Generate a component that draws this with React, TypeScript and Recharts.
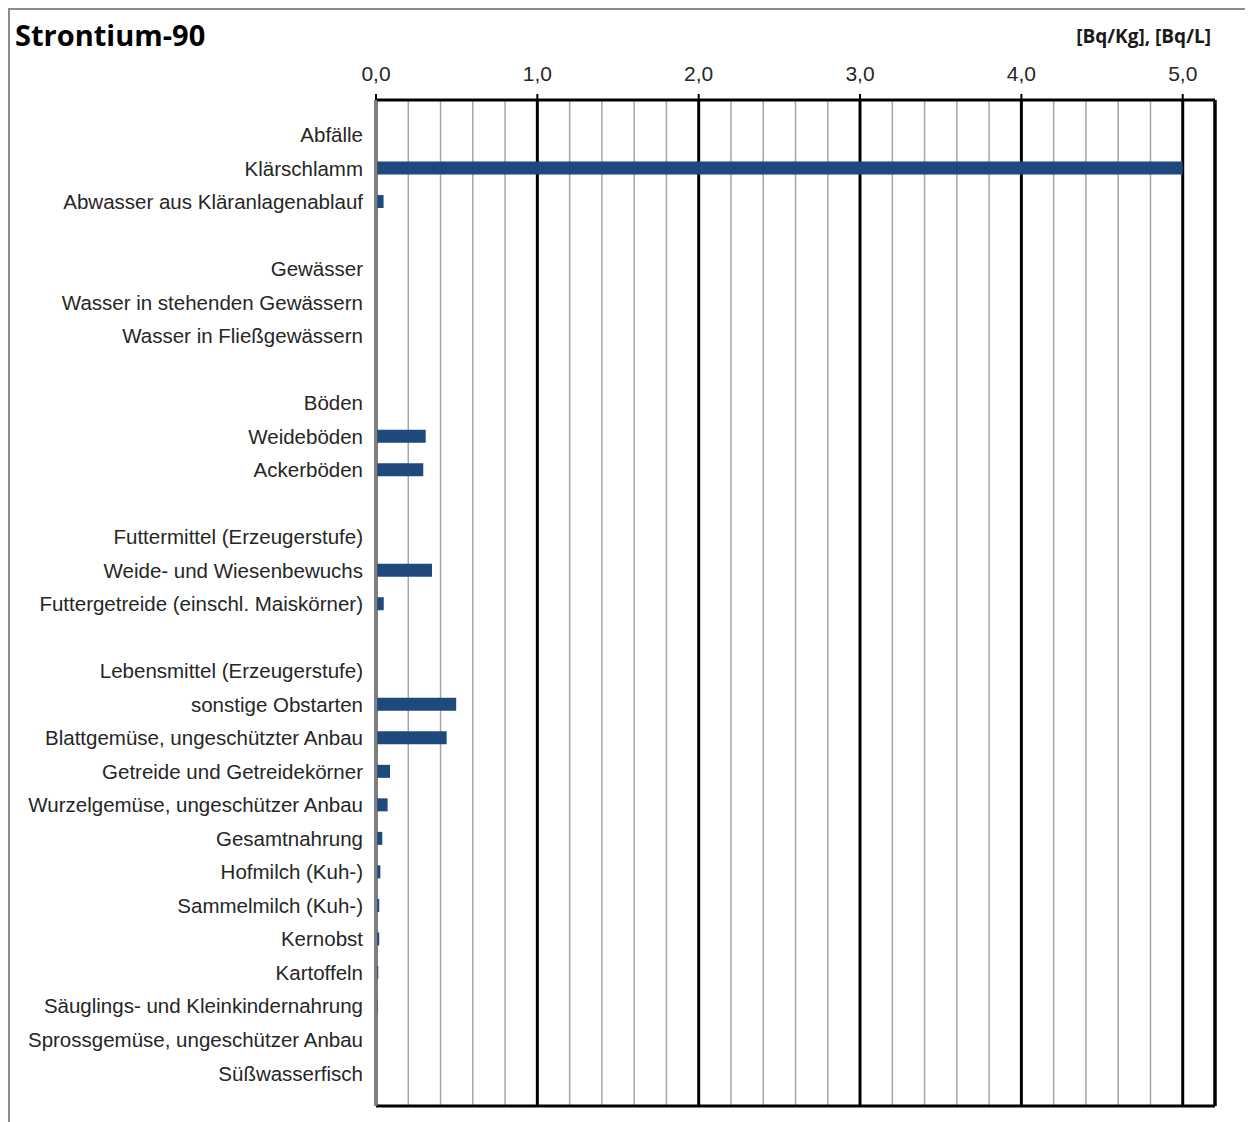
import { BarChart, Bar, XAxis, YAxis, CartesianGrid, ReferenceLine } from "recharts"

// rows from top to bottom; "" = blank spacer row between groups
const LABELS = [
    "Abfälle", "Klärschlamm", "Abwasser aus Kläranlagenablauf", "",
    "Gewässer", "Wasser in stehenden Gewässern", "Wasser in Fließgewässern", "",
    "Böden", "Weideböden", "Ackerböden", "",
    "Futtermittel (Erzeugerstufe)", "Weide- und Wiesenbewuchs", "Futtergetreide (einschl. Maiskörner)", "",
    "Lebensmittel (Erzeugerstufe)", "sonstige Obstarten", "Blattgemüse, ungeschützter Anbau",
    "Getreide und Getreidekörner", "Wurzelgemüse, ungeschützer Anbau", "Gesamtnahrung",
    "Hofmilch (Kuh-)", "Sammelmilch (Kuh-)", "Kernobst", "Kartoffeln",
    "Säuglings- und Kleinkindernahrung", "Sprossgemüse, ungeschützer Anbau", "Süßwasserfisch",
]
const VALUES: (number | null)[] = [
    null, 5.0, 0.047, null,
    null, null, null, null,
    null, 0.308, 0.293, null,
    null, 0.347, 0.048, null,
    null, 0.497, 0.438,
    0.087, 0.072, 0.039,
    0.027, 0.02, 0.02, 0.014,
    0.01, 0.005, 0,
]
const MAJOR_TICKS = [0, 1, 2, 3, 4, 5]
const MINOR_TICKS = [0.2, 0.4, 0.6, 0.8, 1.2, 1.4, 1.6, 1.8, 2.2, 2.4, 2.6, 2.8, 3.2, 3.4, 3.6, 3.8, 4.2, 4.4, 4.6, 4.8]
const X_MAX = 5.2

const data = LABELS.map((label, i) => ({ id: String(i), label, wert: VALUES[i] }))

const FONT = "Arial, 'Liberation Sans', sans-serif"

export default function App() {
    return (
        <div style={{ position: "relative", width: 1245, height: 1114 }}>
            <div style={{ position: "absolute", left: 0, top: 0, width: 1245, height: 2, background: "#8c8c8c" }} />
            <div style={{ position: "absolute", left: 0, top: 0, width: 2, height: 1114, background: "#8c8c8c" }} />
            <div style={{ position: "absolute", left: 0, top: 0 }}>
                <BarChart
                    width={1245}
                    height={1114}
                    data={data}
                    layout="vertical"
                    margin={{ top: 32, right: 38, bottom: 16, left: 0 }}
                >
                    <CartesianGrid
                        horizontal={false}
                        verticalValues={MINOR_TICKS}
                        stroke="#a6a6a6"
                        strokeWidth={1.5}
                    />
                    <CartesianGrid
                        vertical={false}
                        horizontalCoordinatesGenerator={({ offset }: any) => [offset.top + offset.height]}
                        stroke="#000"
                        strokeWidth={3}
                    />
                    <CartesianGrid horizontal={false} stroke="#000" strokeWidth={3} />
                    <XAxis
                        orientation="top"
                        type="number"
                        domain={[0, X_MAX]}
                        ticks={MAJOR_TICKS}
                        height={60}
                        tickFormatter={(v) => v.toFixed(1).replace(".", ",")}
                        tick={{ fontSize: 21, fill: "#262626", fontFamily: FONT }}
                        tickSize={6}
                        tickMargin={13}
                        tickLine={{ stroke: "#000", strokeWidth: 2 }}
                        axisLine={{ stroke: "#000", strokeWidth: 3 }}
                    />
                    <YAxis
                        type="category"
                        dataKey="id"
                        width={368}
                        interval={0}
                        padding={{ top: 18, bottom: 16 }}
                        tickFormatter={(v) => LABELS[Number(v)]}
                        tick={{ fontSize: 20.5, fill: "#262626", fontFamily: FONT }}
                        tickSize={0}
                        tickMargin={13}
                        tickLine={false}
                        axisLine={{ stroke: "#7f7f7f", strokeWidth: 2.5 }}
                    />
                    <ReferenceLine x={X_MAX} stroke="#000" strokeWidth={3} />
                    <Bar dataKey="wert" fill="#1f497d" barSize={13} isAnimationActive={false} />
                </BarChart>
            </div>
            <svg width={1245} height={60} style={{ position: "absolute", left: 0, top: 0 }}>
                <text x={7} y={38} fontFamily="'Open Sans', sans-serif" fontWeight={700} fontSize={29} fill="#000">
                    Strontium-90
                </text>
                <text x={1203} y={35} textAnchor="end" fontFamily="'Open Sans', sans-serif" fontWeight={700} fontSize={19} fill="#1a1a1a">
                    [Bq/Kg], [Bq/L]
                </text>
            </svg>
        </div>
    )
}
